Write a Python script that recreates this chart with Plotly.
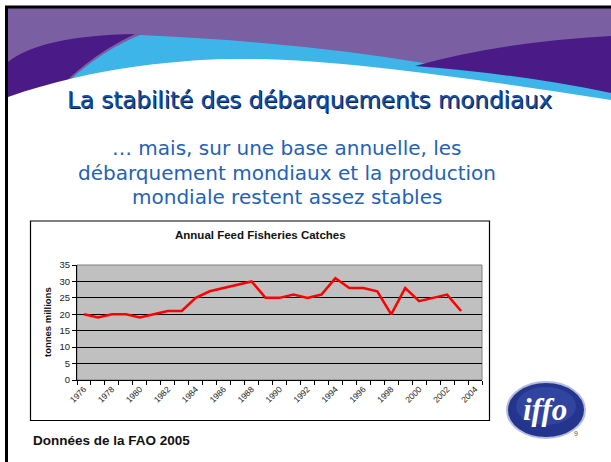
import plotly.graph_objects as go

# Annual feed fisheries catches (million tonnes)
years = [1976, 1977, 1978, 1979, 1980, 1981, 1982, 1983, 1984, 1985,
         1986, 1987, 1988, 1989, 1990, 1991, 1992, 1993, 1994, 1995,
         1996, 1997, 1998, 1999, 2000, 2001, 2002, 2003]
catches = [20, 19, 20, 20, 19, 20, 21, 21, 25, 27,
           28, 29, 30, 25, 25, 26, 25, 26, 31, 28,
           28, 27, 20, 28, 24, 25, 26, 21]
tick_years = [1976, 1978, 1980, 1982, 1984, 1986, 1988, 1990,
              1992, 1994, 1996, 1998, 2000, 2002, 2004]
y_ticks = [0, 5, 10, 15, 20, 25, 30, 35]

W, H = 611, 462


def px(x):
    return x / W


def py(y):
    return 1 - y / H


def path(cmds):
    """build an svg path in paper coords from pixel coords"""
    out = []
    for c in cmds:
        if isinstance(c, str):
            out.append(c)
        else:
            out.append(f"{px(c[0]):.4f},{py(c[1]):.4f}")
    return " ".join(out)


def note(text, x, y, size, color='#111', family='Liberation Sans, Arial',
         xanchor='center', **kw):
    return dict(text=text, x=px(x), y=py(y), xref='paper', yref='paper',
                showarrow=False, xanchor=xanchor, yanchor='middle',
                font=dict(family=family, size=size, color=color), **kw)


fig = go.Figure()

fig.add_trace(go.Scatter(
    x=years,
    y=catches,
    mode='lines',
    line=dict(color='#FF0000', width=2.5),
    showlegend=False,
    hoverinfo='skip'
))

shapes = []
# slide header waves
shapes.append(dict(type='rect', xref='paper', yref='paper',
                   x0=px(8), x1=px(611), y0=py(8), y1=py(105),
                   fillcolor='#7A5FA2', line=dict(width=0), layer='below'))
shapes.append(dict(type='path', xref='paper', yref='paper', layer='below',
                   path=path(['M', (45, 105), 'Q', (90, 55), (140, 35),
                              'Q', (300, 42), (430, 64),
                              'Q', (540, 76), (611, 90),
                              'L', (611, 110), 'L', (45, 110), 'Z']),
                   fillcolor='#3DB5E8', line=dict(width=0)))
shapes.append(dict(type='path', xref='paper', yref='paper', layer='below',
                   path=path(['M', (415, 66), 'Q', (500, 42), (611, 36),
                              'L', (611, 93), 'Q', (520, 74), (415, 66), 'Z']),
                   fillcolor='#4A1A86', line=dict(width=0)))
shapes.append(dict(type='path', xref='paper', yref='paper', layer='below',
                   path=path(['M', (8, 62), 'Q', (40, 36), (135, 34),
                              'Q', (80, 60), (45, 105), 'L', (8, 105), 'Z']),
                   fillcolor='#4A1A86', line=dict(width=0)))
shapes.append(dict(type='path', xref='paper', yref='paper', layer='below',
                   path=path(['M', (8, 97), 'C', (100, 64), (200, 58), (250, 59),
                              'C', (350, 60), (480, 80), (611, 100),
                              'L', (611, 140), 'L', (8, 140), 'Z']),
                   fillcolor='white', line=dict(width=0)))
# slide frame (top and left edges)
shapes.append(dict(type='line', xref='paper', yref='paper',
                   x0=px(5), x1=px(611), y0=py(7), y1=py(7),
                   line=dict(color='black', width=3)))
shapes.append(dict(type='line', xref='paper', yref='paper',
                   x0=px(6.5), x1=px(6.5), y0=py(7), y1=py(462),
                   line=dict(color='black', width=3)))
# chart box
shapes.append(dict(type='rect', xref='paper', yref='paper',
                   x0=px(30.5), x1=px(489.5), y0=py(221), y1=py(420.5),
                   line=dict(color='black', width=1.2)))
# plot area border
shapes.append(dict(type='rect', xref='x domain', yref='y domain',
                   x0=0, x1=1, y0=0, y1=1, layer='below',
                   line=dict(color='#808080', width=1)))
# logo
shapes.append(dict(type='circle', xref='paper', yref='paper',
                   x0=px(507), x1=px(585), y0=py(382), y1=py(438),
                   fillcolor='#23358C', line=dict(color='#B4BCE0', width=2)))
shapes.append(dict(type='circle', xref='paper', yref='paper',
                   x0=px(516), x1=px(576), y0=py(387), y1=py(425),
                   fillcolor='#3448A4', line=dict(width=0), opacity=0.8))

fig.update_layout(shapes=shapes)

ann = []
title_txt = 'La stabilité des débarquements mondiaux'
ann.append(note(title_txt, 310, 101, 23, color='#0B1F4A', family='DejaVu Sans'))
ann.append(note(title_txt, 309, 100, 23, color='#1450A3', family='DejaVu Sans'))
sub_lines = ['… mais, sur une base annuelle, les',
             'débarquement mondiaux et la production',
             'mondiale restent assez stables']
for i, line in enumerate(sub_lines):
    ann.append(note(line, 287, 148 + 24.5 * i, 20, color='#1F62B6',
                    family='DejaVu Sans'))
ann.append(note('<b>Annual Feed Fisheries Catches</b>', 260, 235, 11.5))
ann.append(note('<b>tonnes millions</b>', 47, 322, 9.5, textangle=-90))
ann.append(note('<b>Données de la FAO 2005</b>', 31, 440, 13.5, xanchor='left'))
ann.append(note('<b><i>iffo</i></b>', 545, 409, 31, color='white',
                family='Liberation Serif'))
ann.append(note('9', 576, 433, 7, color='#555'))
fig.update_layout(annotations=ann)

fig.update_layout(
    width=W,
    height=H,
    margin=dict(l=0, r=0, t=0, b=0),
    paper_bgcolor='white',
    plot_bgcolor='#C0C0C0',
    xaxis=dict(
        domain=[px(77), px(482)],
        range=[1975.5, 2004.5],
        tickmode='array',
        tickvals=tick_years,
        ticktext=[str(y) for y in tick_years],
        tickangle=-45,
        ticks='',
        showgrid=False,
        zeroline=False,
        showline=True,
        linecolor='black',
        linewidth=1,
        automargin=False,
        tickfont=dict(family='Liberation Sans, Arial', size=8.5, color='#222'),
        minor=dict(tickmode='linear', tick0=1975.5, dtick=1, ticks='outside',
                   ticklen=4, tickcolor='black', showgrid=False),
        fixedrange=True
    ),
    yaxis=dict(
        domain=[py(380), py(265)],
        range=[0, 35],
        tickmode='array',
        tickvals=y_ticks,
        ticks='outside',
        ticklen=4,
        tickcolor='black',
        showgrid=True,
        gridcolor='black',
        gridwidth=1,
        zeroline=False,
        showline=True,
        linecolor='black',
        linewidth=1,
        automargin=False,
        tickfont=dict(family='Liberation Sans, Arial', size=9.5, color='#222'),
        fixedrange=True
    )
)

fig.write_html(
    "out.html",
    config={'displayModeBar': False},
    post_script="document.body.style.margin='0';document.body.style.overflow='hidden';"
)
